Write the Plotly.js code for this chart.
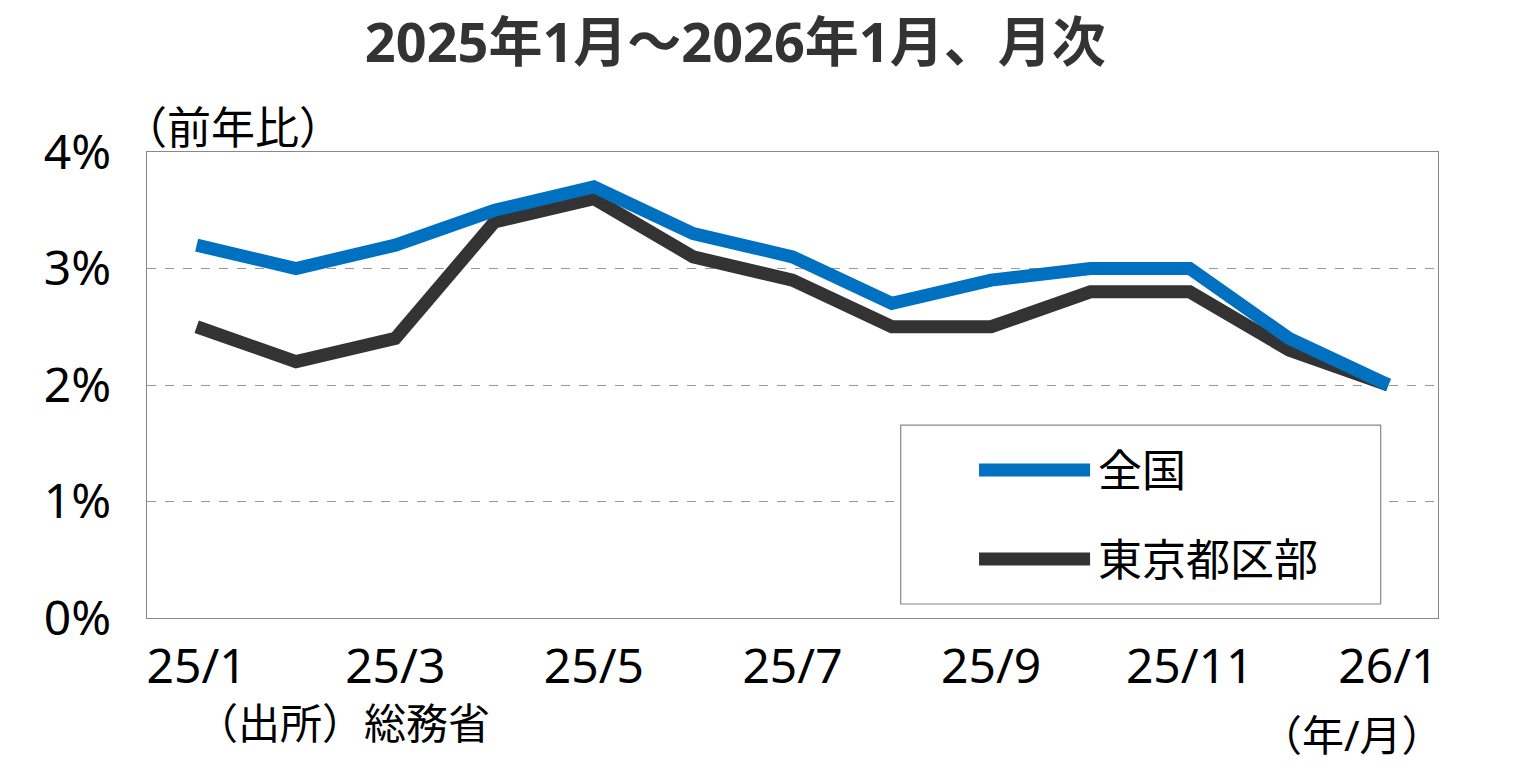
<!DOCTYPE html>
<html><head><meta charset="utf-8">
<script src="https://cdn.plot.ly/plotly-3.0.1.min.js"></script>
<style>html,body{margin:0;padding:0;background:#fff;}#chart{width:1513px;height:775px;}</style>
</head><body><div id="chart"></div>
<script>
const months = ['25/1','25/2','25/3','25/4','25/5','25/6','25/7','25/8','25/9','25/10','25/11','25/12','26/1'];
const tickLabels = ['25/1','25/3','25/5','25/7','25/9','25/11','26/1'];
const seriesNames = ['全国','東京都区部'];
const national = [3.2,3.0,3.2,3.5,3.7,3.3,3.1,2.7,2.9,3.0,3.0,2.4,2.0];
const tokyo = [2.5,2.2,2.4,3.4,3.6,3.1,2.9,2.5,2.5,2.8,2.8,2.3,2.0];
const colors = ['#0070C0','#333333'];
const yTicks = [0,1,2,3,4];

const FONT = '"Noto Sans", "Noto Sans CJK JP", sans-serif';
const traces = [national, tokyo].map((v,i)=>({
  x: months, y: v, type:'scatter', mode:'lines', name: seriesNames[i],
  line:{color:colors[i], width:13, shape:'linear'}, showlegend:false, hoverinfo:'skip'
}));
traces.reverse();

const legX0 = 0.5838, legX1 = 0.9556, legY0 = 0.030, legY1 = 0.414;
const shapes = [
  {type:'rect', xref:'paper', yref:'paper', x0:legX0, x1:legX1, y0:legY0, y1:legY1, line:{color:'#888', width:1.2}, fillcolor:'#fff', layer:'above'}
];
const legRows = [0.3176, 0.1266];
const annotations = [
  {text:'（前年比）', xref:'paper', yref:'paper', x:-0.02, y:1.054, xanchor:'left', yanchor:'middle', showarrow:false, font:{size:44, color:'#000', family:FONT}},
  {text:'（出所）総務省', xref:'paper', yref:'paper', x:0.0364, y:-0.224, xanchor:'left', yanchor:'middle', showarrow:false, font:{size:42, color:'#000', family:FONT}},
  {text:'（年/月）', xref:'paper', yref:'paper', x:1.006, y:-0.251, xanchor:'right', yanchor:'middle', showarrow:false, font:{size:42, color:'#000', family:FONT}}
];
seriesNames.forEach((n,i)=>{
  shapes.push({type:'line', xref:'paper', yref:'paper', x0:0.6445, x1:0.7305, y0:legRows[i], y1:legRows[i], line:{color:colors[i], width:13}, layer:'above'});
  annotations.push({text:n, xref:'paper', yref:'paper', x:0.735, y:legRows[i], xanchor:'left', yanchor:'middle', showarrow:false, font:{size:44, color:'#000', family:FONT}});
});

const layout = {
  width:1513, height:775,
  margin:{l:147, r:75, t:152, b:157},
  paper_bgcolor:'#fff', plot_bgcolor:'#fff',
  font:{family:FONT, color:'#000'},
  title:{text:'2025年1月～2026年1月、月次', x:0.486, xanchor:'center', y:0.945, yanchor:'middle', font:{size:54, color:'#333', family:FONT, weight:'bold'}},
  xaxis:{type:'category', range:[-0.5,12.5], tickmode:'array', tickvals:[months[0],months[2],months[4],months[6],months[8],months[10],months[12]], ticktext:tickLabels,
    showgrid:false, zeroline:false, showline:true, mirror:true, linecolor:'#888', linewidth:1.2, ticks:'', tickfont:{size:48, color:'#000', family:FONT}, ticklabelstandoff:6, fixedrange:true},
  yaxis:{range:[0,4], tickmode:'array', tickvals:yTicks, ticktext:yTicks.map(v=>v+'%'), showgrid:true, gridcolor:'#999', griddash:'dash', gridwidth:1,
    zeroline:false, showline:true, mirror:true, linecolor:'#888', linewidth:1.2, ticks:'', tickfont:{size:48, color:'#000', family:FONT}, ticklabelstandoff:25, fixedrange:true},
  shapes: shapes, annotations: annotations, showlegend:false
};
Plotly.newPlot('chart', traces, layout, {staticPlot:true});
</script></body></html>
